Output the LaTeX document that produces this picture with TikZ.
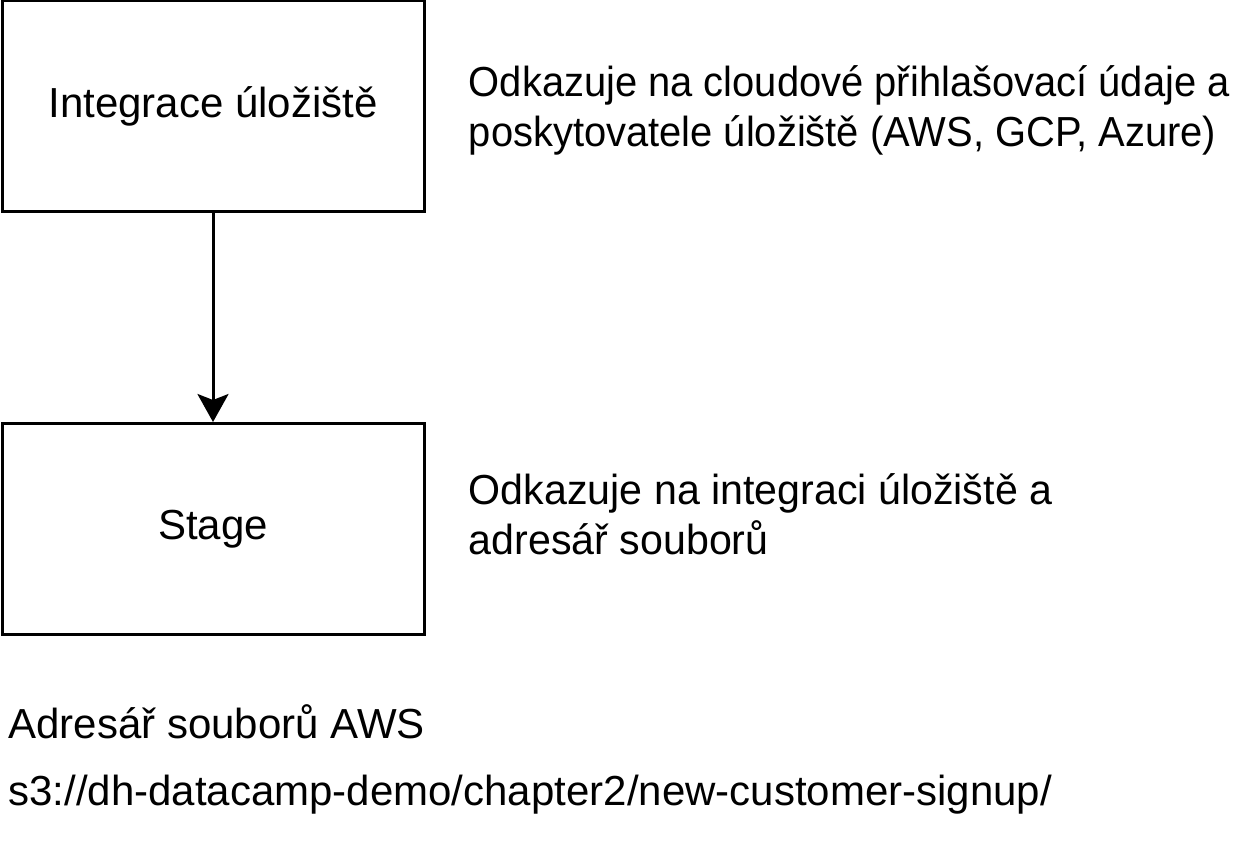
\documentclass[tikz,border=0pt]{standalone}
\usepackage{fontspec}
\setmainfont{Liberation Sans}
\newfontfamily\narrowA{Liberation Sans}[FakeStretch=0.95]
\newfontfamily\narrowB{Liberation Sans}[FakeStretch=0.98]
\usetikzlibrary{positioning,arrows.meta}

\begin{document}
\begin{tikzpicture}[x=0.5pt,y=-0.5pt,
	stagebox/.style={rectangle,draw,line width=1.5pt,minimum width=211pt,minimum height=105.5pt,inner sep=0pt},
	note/.style={align=left,inner sep=0pt,anchor=west},
	every node/.style={font=\fontsize{21}{25}\selectfont}]
\useasboundingbox (0,0) rectangle (1235,848);
\node [stagebox] (integrace) at (213,106) {Integrace úložiště};
\node [stagebox] (stage) at (213,529) {Stage};
\node [note,right=21.5pt of integrace,yshift=-2pt,font=\fontsize{21}{25}\narrowA] (integraceText) {Odkazuje na cloudové přihlašovací údaje a\\poskytovatele úložiště (AWS, GCP, Azure)};
\node [note,right=21.5pt of stage,yshift=7.5pt,font=\fontsize{21}{25}\narrowB] (stageText) {Odkazuje na integraci úložiště a\\adresář souborů};
\node [note] (aws) at (8,722) {Adresář souborů AWS};
\node [note] (s3) at (8,795) {s3://dh-datacamp-demo/chapter2/new-customer-signup/};
\draw [line width=1.5pt,-{Stealth[length=14pt,width=15.5pt,inset=3pt]}] (integrace) -- (stage);
\end{tikzpicture}
\end{document}
